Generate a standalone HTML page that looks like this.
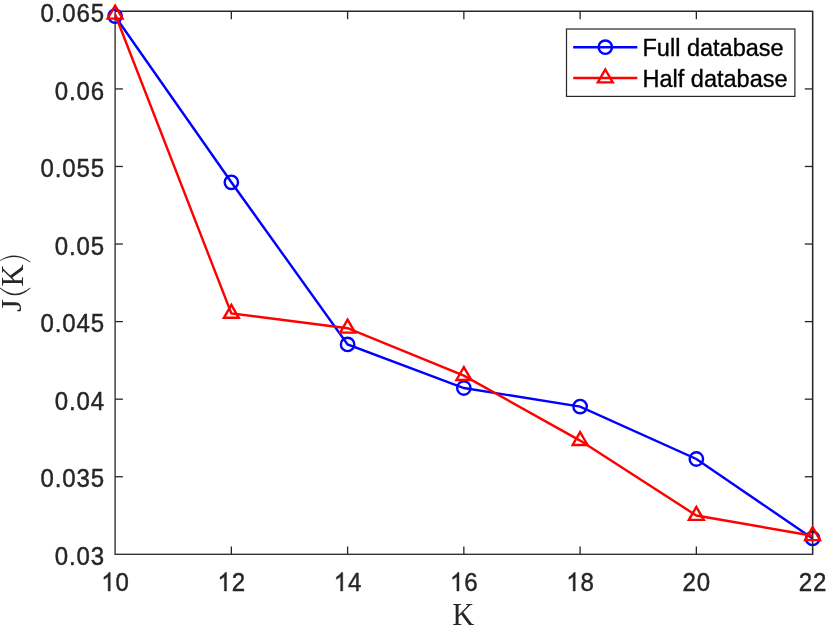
<!DOCTYPE html><html><head><meta charset="utf-8"><style>html,body{margin:0;padding:0;background:#fff;width:829px;height:625px;overflow:hidden}svg{display:block;will-change:transform}text{font-family:"Liberation Sans",sans-serif}</style></head><body>
<svg width="829" height="625" viewBox="0 0 829 625">
<rect width="829" height="625" fill="#fff"/>
<g stroke="#262626" stroke-width="1.3" fill="none">
<rect x="115.1" y="11.35" width="697.5" height="542.9499999999999"/>
<line x1="231.35" y1="554.3" x2="231.35" y2="546.5"/>
<line x1="231.35" y1="11.35" x2="231.35" y2="19.15"/>
<line x1="347.60" y1="554.3" x2="347.60" y2="546.5"/>
<line x1="347.60" y1="11.35" x2="347.60" y2="19.15"/>
<line x1="463.85" y1="554.3" x2="463.85" y2="546.5"/>
<line x1="463.85" y1="11.35" x2="463.85" y2="19.15"/>
<line x1="580.10" y1="554.3" x2="580.10" y2="546.5"/>
<line x1="580.10" y1="11.35" x2="580.10" y2="19.15"/>
<line x1="696.35" y1="554.3" x2="696.35" y2="546.5"/>
<line x1="696.35" y1="11.35" x2="696.35" y2="19.15"/>
<line x1="115.1" y1="88.91" x2="122.89999999999999" y2="88.91"/>
<line x1="812.6" y1="88.91" x2="804.8000000000001" y2="88.91"/>
<line x1="115.1" y1="166.48" x2="122.89999999999999" y2="166.48"/>
<line x1="812.6" y1="166.48" x2="804.8000000000001" y2="166.48"/>
<line x1="115.1" y1="244.04" x2="122.89999999999999" y2="244.04"/>
<line x1="812.6" y1="244.04" x2="804.8000000000001" y2="244.04"/>
<line x1="115.1" y1="321.61" x2="122.89999999999999" y2="321.61"/>
<line x1="812.6" y1="321.61" x2="804.8000000000001" y2="321.61"/>
<line x1="115.1" y1="399.17" x2="122.89999999999999" y2="399.17"/>
<line x1="812.6" y1="399.17" x2="804.8000000000001" y2="399.17"/>
<line x1="115.1" y1="476.74" x2="122.89999999999999" y2="476.74"/>
<line x1="812.6" y1="476.74" x2="804.8000000000001" y2="476.74"/>
</g>
<g fill="#262626" font-size="26.7" letter-spacing="1.0" stroke="#262626" stroke-width="0.45">
<path transform="translate(101.286,591) scale(0.011733,-0.012646)" d="M763 0H583V1147Q518 1085 412 1023T221 930V1104Q372 1175 485 1276T645 1472H763V0Z" vector-effect="non-scaling-stroke"/>
<text transform="translate(115.550,591) scale(0.9,1)" letter-spacing="0">0</text>
<path transform="translate(217.536,591) scale(0.011733,-0.012646)" d="M763 0H583V1147Q518 1085 412 1023T221 930V1104Q372 1175 485 1276T645 1472H763V0Z" vector-effect="non-scaling-stroke"/>
<text transform="translate(231.800,591) scale(0.9,1)" letter-spacing="0">2</text>
<path transform="translate(333.786,591) scale(0.011733,-0.012646)" d="M763 0H583V1147Q518 1085 412 1023T221 930V1104Q372 1175 485 1276T645 1472H763V0Z" vector-effect="non-scaling-stroke"/>
<text transform="translate(348.050,591) scale(0.9,1)" letter-spacing="0">4</text>
<path transform="translate(450.036,591) scale(0.011733,-0.012646)" d="M763 0H583V1147Q518 1085 412 1023T221 930V1104Q372 1175 485 1276T645 1472H763V0Z" vector-effect="non-scaling-stroke"/>
<text transform="translate(464.300,591) scale(0.9,1)" letter-spacing="0">6</text>
<path transform="translate(566.286,591) scale(0.011733,-0.012646)" d="M763 0H583V1147Q518 1085 412 1023T221 930V1104Q372 1175 485 1276T645 1472H763V0Z" vector-effect="non-scaling-stroke"/>
<text transform="translate(580.550,591) scale(0.9,1)" letter-spacing="0">8</text>
<text transform="translate(682.536,591) scale(0.9,1)" letter-spacing="0">2</text>
<text transform="translate(696.800,591) scale(0.9,1)" letter-spacing="0">0</text>
<text transform="translate(798.786,591) scale(0.9,1)" letter-spacing="0">2</text>
<text transform="translate(813.050,591) scale(0.9,1)" letter-spacing="0">2</text>
<text transform="translate(105.0,22.05) scale(0.9,1)" text-anchor="end">0.065</text>
<text transform="translate(105.0,99.61) scale(0.9,1)" text-anchor="end">0.06</text>
<text transform="translate(105.0,177.18) scale(0.9,1)" text-anchor="end">0.055</text>
<text transform="translate(105.0,254.74) scale(0.9,1)" text-anchor="end">0.05</text>
<text transform="translate(105.0,332.31) scale(0.9,1)" text-anchor="end">0.045</text>
<text transform="translate(105.0,409.87) scale(0.9,1)" text-anchor="end">0.04</text>
<text transform="translate(105.0,487.44) scale(0.9,1)" text-anchor="end">0.035</text>
<text transform="translate(105.0,565.00) scale(0.9,1)" text-anchor="end">0.03</text>
</g>
<text x="452.31" y="625.4" font-size="30.5" fill="#262626" style="font-family:'Liberation Serif',serif">K</text>
<text transform="translate(22.5,313.0) rotate(-90) translate(1.10,-1.6) scale(1.1,1.0)" font-size="30.5" fill="#262626" style="font-family:'Liberation Serif',serif">J</text>
<path fill="#262626" d="M-0.5,288.0 Q14.85,302.4 30.2,288.4 L30.2,287.6 Q14.85,300.0 -0.5,287.2 Z"/>
<text transform="translate(22.5,313.0) rotate(-90) translate(26.47,0.0) scale(1.0,1.0)" font-size="30.5" fill="#262626" style="font-family:'Liberation Serif',serif">K</text>
<path fill="#262626" d="M-0.5,260.6 Q14.85,249.7 30.2,261.6 L30.2,262.4 Q14.85,252.3 -0.5,261.4 Z"/>
<g fill="none" stroke="#0000ff" stroke-width="2.4" stroke-linejoin="miter">
<polyline points="115.10,16.20 231.35,182.30 347.60,344.40 463.85,388.00 580.10,406.60 696.35,459.00 812.60,538.40"/>
<circle cx="115.10" cy="16.20" r="6.7"/>
<circle cx="231.35" cy="182.30" r="6.7"/>
<circle cx="347.60" cy="344.40" r="6.7"/>
<circle cx="463.85" cy="388.00" r="6.7"/>
<circle cx="580.10" cy="406.60" r="6.7"/>
<circle cx="696.35" cy="459.00" r="6.7"/>
<circle cx="812.60" cy="538.40" r="6.7"/>
</g>
<path d="M115.1,11.35H812.6V554.3" fill="none" stroke="#262626" stroke-width="1.3"/>
<g fill="none" stroke="#ff0000" stroke-width="2.4" stroke-linejoin="miter">
<polyline points="115.10,14.20 231.35,313.40 347.60,328.20 463.85,375.60 580.10,440.60 696.35,515.50 812.60,535.70"/>
<polygon points="115.10,5.70 122.55,18.60 107.65,18.60"/>
<polygon points="231.35,304.90 238.80,317.80 223.90,317.80"/>
<polygon points="347.60,319.70 355.05,332.60 340.15,332.60"/>
<polygon points="463.85,367.10 471.30,380.00 456.40,380.00"/>
<polygon points="580.10,432.10 587.55,445.00 572.65,445.00"/>
<polygon points="696.35,507.00 703.80,519.90 688.90,519.90"/>
<polygon points="812.60,527.20 820.05,540.10 805.15,540.10"/>
</g>
<rect x="566.5" y="29.0" width="228.39999999999998" height="67.4" fill="#fff" stroke="#262626" stroke-width="1.2"/>
<g fill="none" stroke="#0000ff" stroke-width="2.4"><line x1="573.2" y1="47.2" x2="637.3" y2="47.2"/><circle cx="605.30" cy="47.20" r="6.7"/></g>
<g fill="none" stroke="#ff0000" stroke-width="2.4"><line x1="573.2" y1="78.0" x2="637.3" y2="78.0"/><polygon points="605.30,69.50 612.75,82.40 597.85,82.40"/></g>
<g fill="#000" font-size="23.5" stroke="#000" stroke-width="0.35">
<text x="642.5" y="55.9">Full database</text>
<text x="642.5" y="86.7">Half database</text>
</g>
</svg></body></html>
